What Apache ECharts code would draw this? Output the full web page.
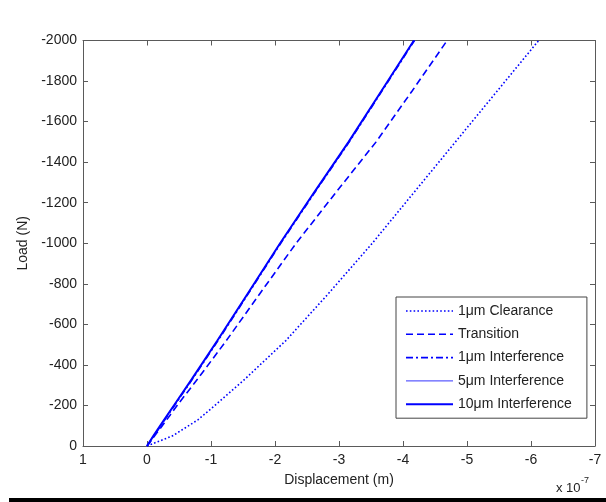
<!DOCTYPE html>
<html>
<head>
<meta charset="utf-8">
<script src="https://cdn.jsdelivr.net/npm/echarts@6/dist/echarts.min.js"></script>
<style>html,body{margin:0;padding:0;background:#fff}#c{width:606px;height:502px}</style>
</head>
<body>
<div id="c"></div>
<script>
// Load values (N), shared by all curves
var loads = [0, -50, -130, -200, -330, -520, -750, -1000, -1250, -1500, -1750, -2000];
// Displacement in units of 1e-7 m
var clearance1 = [0, -0.40, -0.80, -1.06, -1.53, -2.17, -2.83, -3.52, -4.17, -4.82, -5.47, -6.12];
var transition = [0, -0.12, -0.31, -0.47, -0.79, -1.24, -1.76, -2.33, -2.95, -3.58, -4.14, -4.69];
var interf1 = [0, -0.11, -0.28, -0.43, -0.71, -1.11, -1.58, -2.09, -2.62, -3.16, -3.67, -4.18];
var interf5 = [0, -0.10, -0.27, -0.42, -0.70, -1.10, -1.57, -2.08, -2.61, -3.15, -3.66, -4.17];
var interf10 = [0, -0.10, -0.27, -0.42, -0.70, -1.10, -1.57, -2.08, -2.61, -3.15, -3.66, -4.17];
var seriesNames = ['1\u03bcm Clearance', 'Transition', '1\u03bcm Interference', '5\u03bcm Interference', '10\u03bcm Interference'];
var xTicks = [1, 0, -1, -2, -3, -4, -5, -6, -7];
var yTicks = [0, -200, -400, -600, -800, -1000, -1200, -1400, -1600, -1800, -2000];

function pairs(xs) { return xs.map(function (x, i) { return [x, loads[i]]; }); }

var FONT = 'Liberation Sans, Arial, sans-serif';
var AX = '#5a5a5a';
var TXT = '#222';
var BLUE = '#0000ff';
var lineTypes = [[1.6, 2.2], [7, 4], [7, 3, 2, 3], 'solid', 'solid'];
var lineWidths = [1.6, 1.6, 1.6, 0.8, 2];

var chart = echarts.init(document.getElementById('c'), null, {renderer: 'canvas'});
var axisCommon = {
  type: 'value',
  axisLine: {show: true, onZero: false, lineStyle: {color: AX, width: 1}},
  axisTick: {show: true, inside: true, length: 5, lineStyle: {color: AX}},
  splitLine: {show: false}
};
function line(i, data) {
  return {
    name: seriesNames[i], type: 'line', data: pairs(data), symbol: 'none', smooth: false,
    xAxisIndex: 0, yAxisIndex: 0,
    lineStyle: {color: BLUE, width: lineWidths[i], type: lineTypes[i]},
    itemStyle: {color: BLUE},
    emphasis: {disabled: true}, animation: false
  };
}
chart.setOption({
  animation: false,
  backgroundColor: '#fff',
  grid: {left: 83, right: 11, top: 40.5, bottom: 56},
  xAxis: [
    Object.assign({}, axisCommon, {
      min: -7, max: 1, interval: 1, inverse: true, position: 'bottom',
      axisLabel: {color: TXT, fontSize: 14, fontFamily: FONT, margin: 7,
        formatter: function (v) { return xTicks.indexOf(v) >= 0 ? String(v) : ''; }},
      name: 'Displacement (m)', nameLocation: 'middle', nameGap: 27,
      nameTextStyle: {color: TXT, fontSize: 14, fontFamily: FONT}
    }),
    Object.assign({}, axisCommon, {
      min: -7, max: 1, interval: 1, inverse: true, position: 'top',
      axisLabel: {show: false}
    })
  ],
  yAxis: [
    Object.assign({}, axisCommon, {
      min: -2000, max: 0, interval: 200, inverse: true, position: 'left',
      axisLabel: {color: TXT, fontSize: 14, fontFamily: FONT, margin: 6,
        formatter: function (v) { return yTicks.indexOf(v) >= 0 ? String(v) : ''; }},
      name: 'Load (N)', nameLocation: 'middle', nameGap: 52, nameRotate: 90,
      nameTextStyle: {color: TXT, fontSize: 14, fontFamily: FONT}
    }),
    Object.assign({}, axisCommon, {
      min: -2000, max: 0, interval: 200, inverse: true, position: 'right',
      axisLabel: {show: false}
    })
  ],
  legend: {
    data: seriesNames.map(function (n, i) {
      return {name: n, lineStyle: {width: lineWidths[i], type: lineTypes[i], color: BLUE}};
    }),
    orient: 'vertical',
    left: 396, top: 297,
    itemWidth: 47, itemHeight: 14, itemGap: 9.3,
    padding: [7, 15, 7, 9],
    backgroundColor: '#fff',
    borderColor: '#444', borderWidth: 1, borderRadius: 0,
    itemStyle: {opacity: 0},
    textStyle: {color: TXT, fontSize: 14, fontFamily: FONT},
    selectedMode: false
  },
  series: [
    line(0, clearance1),
    line(1, transition),
    line(2, interf1),
    line(3, interf5),
    line(4, interf10)
  ],
  graphic: [
    {type: 'text', left: 556, top: 482, style: {text: 'x 10', fill: TXT, font: '13px ' + FONT}},
    {type: 'text', left: 581, top: 476, style: {text: '-7', fill: TXT, font: '9px ' + FONT}},
    {type: 'rect', shape: {x: 9, y: 498, width: 597, height: 4}, style: {fill: '#000'}}
  ]
});
</script>
</body>
</html>
